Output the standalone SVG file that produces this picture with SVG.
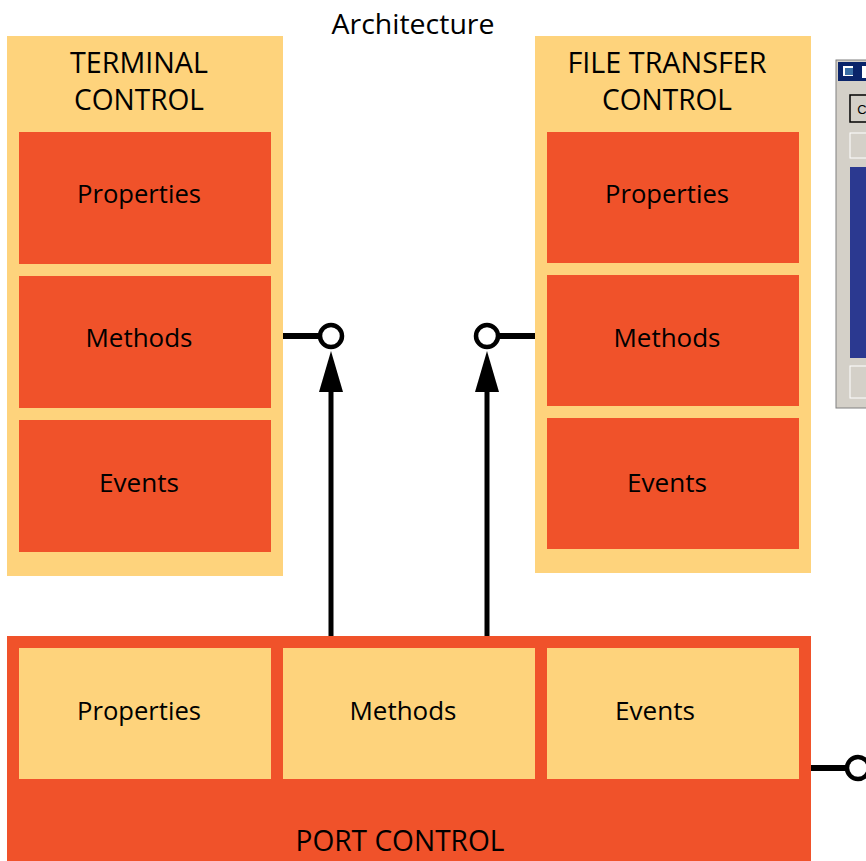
<svg xmlns="http://www.w3.org/2000/svg" width="866" height="861" viewBox="0 0 866 861">
<style>
.lt{fill:#FED37C}
.rd{fill:#F0522A}
text{font-family:"Open Sans","Liberation Sans",sans-serif;fill:#000;text-anchor:middle}
.t{font-size:26px}
.h{font-size:29px}
.ln{stroke:#000;stroke-width:6;fill:none}
.ci{stroke:#000;stroke-width:4.5;fill:#fff}
</style>
<defs>
<marker id="ah" markerWidth="24" markerHeight="40" refX="12" refY="0" orient="auto-start-reverse" markerUnits="userSpaceOnUse" viewBox="0 0 24 40">
<path d="M12 0 L24 40 L0 40 Z" fill="#000"/>
</marker>
</defs>
<rect width="866" height="861" fill="#fff"/>
<text x="413" y="34" style="font-size:28px" textLength="163" lengthAdjust="spacingAndGlyphs">Architecture</text>

<g id="terminal">
<rect class="lt" x="7" y="36" width="276" height="540"/>
<text class="h" x="139" y="73" textLength="138" lengthAdjust="spacingAndGlyphs">TERMINAL</text>
<text class="h" x="139" y="110" textLength="130" lengthAdjust="spacingAndGlyphs">CONTROL</text>
<rect class="rd" x="19" y="132" width="252" height="132"/>
<text class="t" x="139" y="203" textLength="124" lengthAdjust="spacingAndGlyphs">Properties</text>
<rect class="rd" x="19" y="276" width="252" height="132"/>
<text class="t" x="139" y="347" textLength="107" lengthAdjust="spacingAndGlyphs">Methods</text>
<rect class="rd" x="19" y="420" width="252" height="132"/>
<text class="t" x="139" y="492" textLength="80" lengthAdjust="spacingAndGlyphs">Events</text>
</g>

<g id="filetransfer">
<rect class="lt" x="535" y="36" width="276" height="537"/>
<text class="h" x="667" y="73" textLength="199" lengthAdjust="spacingAndGlyphs">FILE TRANSFER</text>
<text class="h" x="667" y="110" textLength="130" lengthAdjust="spacingAndGlyphs">CONTROL</text>
<rect class="rd" x="547" y="132" width="252" height="131"/>
<text class="t" x="667" y="203" textLength="124" lengthAdjust="spacingAndGlyphs">Properties</text>
<rect class="rd" x="547" y="275" width="252" height="131"/>
<text class="t" x="667" y="347" textLength="107" lengthAdjust="spacingAndGlyphs">Methods</text>
<rect class="rd" x="547" y="418" width="252" height="131"/>
<text class="t" x="667" y="492" textLength="80" lengthAdjust="spacingAndGlyphs">Events</text>
</g>

<g id="portcontrol">
<rect class="rd" x="7" y="636" width="804" height="230"/>
<rect class="lt" x="19" y="648" width="252" height="131"/>
<text class="t" x="139" y="720" textLength="124" lengthAdjust="spacingAndGlyphs">Properties</text>
<rect class="lt" x="283" y="648" width="252" height="131"/>
<text class="t" x="403" y="720" textLength="107" lengthAdjust="spacingAndGlyphs">Methods</text>
<rect class="lt" x="547" y="648" width="252" height="131"/>
<text class="t" x="655" y="720" textLength="80" lengthAdjust="spacingAndGlyphs">Events</text>
<text class="h" x="400" y="851" textLength="209" lengthAdjust="spacingAndGlyphs">PORT CONTROL</text>
</g>

<g id="window">
<rect x="836" y="60" width="32" height="348" fill="#D4D0C8" stroke="#808080" stroke-width="1"/>
<rect x="838" y="62" width="30" height="19" fill="#0A246A"/>
<rect x="843" y="66" width="10" height="10" fill="#fff"/>
<rect x="845" y="68" width="8" height="7" fill="#3A6EA5"/>
<rect x="862" y="66" width="5" height="12" fill="#fff"/>
<rect x="850" y="95" width="18" height="27" fill="#D4D0C8" stroke="#000" stroke-width="1.5"/>
<text x="862" y="114" style="font-size:13px;font-family:'Liberation Sans',sans-serif">C</text>
<rect x="850" y="133" width="18" height="25" fill="#D4D0C8" stroke="#fff" stroke-width="1"/>
<rect x="850" y="167" width="18" height="191" fill="#2B3990"/>
<rect x="850" y="366" width="18" height="32" fill="#D4D0C8" stroke="#fff" stroke-width="1"/>
</g>

<g id="connectors">
<line class="ln" x1="283" y1="336" x2="320" y2="336"/>
<circle class="ci" cx="331" cy="336" r="11"/>
<line class="ln" x1="331" y1="636" x2="331" y2="390" style="stroke-width:5"/>
<path d="M331 351 L343 392 L319 392 Z" fill="#000"/>
<line class="ln" x1="535" y1="336" x2="498" y2="336"/>
<circle class="ci" cx="487" cy="336" r="11"/>
<line class="ln" x1="487" y1="636" x2="487" y2="390" style="stroke-width:5"/>
<path d="M487 351 L499 392 L475 392 Z" fill="#000"/>
<line class="ln" x1="811" y1="768" x2="847" y2="768"/>
<circle class="ci" cx="858" cy="768" r="11"/>
</g>
</svg>
